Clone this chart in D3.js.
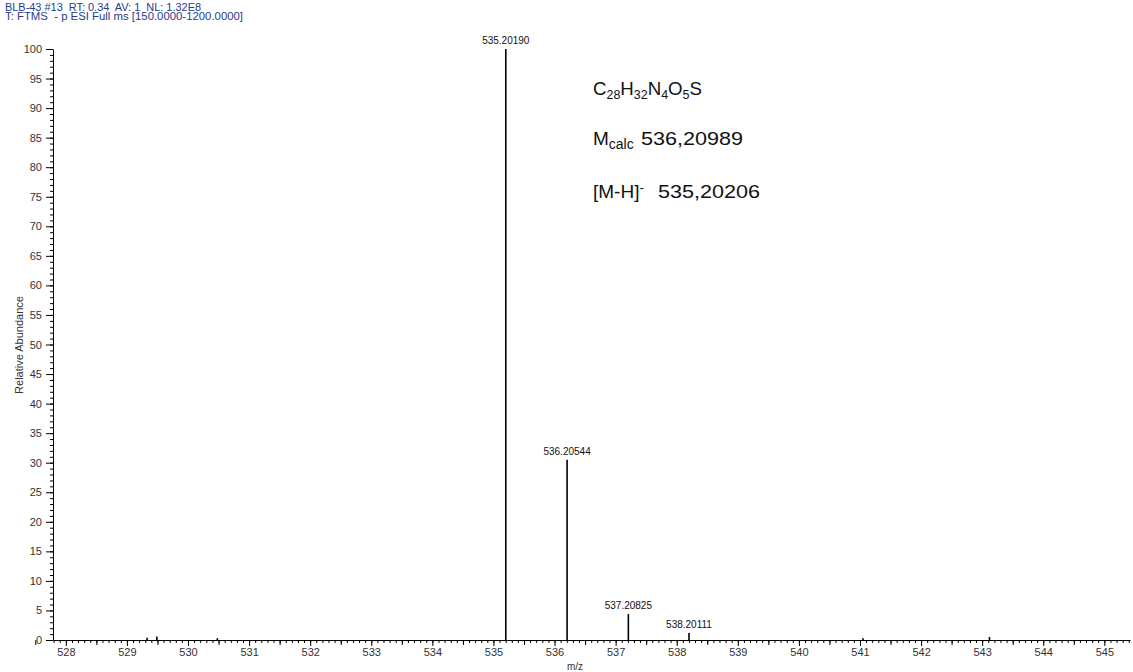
<!DOCTYPE html>
<html>
  <head>
      <meta charset="utf-8">
      <title>Mass spectrum</title>
      <script type="text/javascript" src="https://d3js.org/d3.v7.min.js"></script>
      <style>
        body { margin: 0; background: #fff; }
        text { font-family: "Liberation Sans", Arial, sans-serif; white-space: pre; }
      </style>
  </head>
  <body>

    <script type="text/javascript">
    var w = 1133;
    var h = 672;

    // peaks: m/z and relative abundance
    var peakMz    = [529.33, 529.49, 530.48, 535.20190, 536.20544, 537.20825, 538.20111, 541.05, 543.12];
    var peakAbund = [0.4,    0.6,    0.3,    100,       30.5,      4.4,       1.2,       0.3,    0.5];
    var peakLabel = ["", "", "", "535.20190", "536.20544", "537.20825", "538.20111", "", ""];

    var xTicks = d3.range(528, 546);
    var yTicks = d3.range(0, 101, 5);

    var header = ["BLB-43 #13  RT: 0.34  AV: 1  NL: 1.32E8",
                  "T: FTMS  - p ESI Full ms [150.0000-1200.0000]"];
    var headerWidth = [196, 238];

    var xScale = d3.scaleLinear()
                   .domain([527.79, 545.42])
                   .range([53, 1130]);
    var yScale = d3.scaleLinear()
                   .domain([0, 100])
                   .range([640, 49]);

    var svg = d3.select("body")
                .append("svg")
                .attr("width", w)
                .attr("height", h);

    // header text
    svg.selectAll("text.hdr")
       .data(header)
       .enter()
       .append("text")
       .attr("class", "hdr")
       .attr("x", 5)
       .attr("y", function(d, i){ return 11 + i * 9; })
       .attr("font-size", "10px")
       .attr("fill", "#2b3a8c")
       .attr("textLength", function(d, i){ return headerWidth[i]; })
       .attr("lengthAdjust", "spacingAndGlyphs")
       .text(function(d){ return d; });

    // y axis: major ticks labelled, minor every 1
    svg.append("g")
       .attr("transform", "translate(53,0)")
       .call(d3.axisLeft(yScale).tickValues(d3.range(0, 101, 1)).tickSize(3).tickFormat(""))
       .call(function(g){ g.select(".domain").remove(); });
    var yAx = svg.append("g")
       .attr("transform", "translate(53,0)")
       .call(d3.axisLeft(yScale).tickValues(yTicks).tickSize(7).tickSizeOuter(0).tickPadding(4));
    yAx.selectAll("text").attr("font-size", "11px").attr("fill", "#333")
       .style("font-family", "Liberation Sans, Arial, sans-serif");

    // x axis: minor every 0.1, mid at .5, major at integers
    var minor = d3.range(5278, 5455, 1).map(function(d){ return d / 10; });
    svg.append("g")
       .attr("transform", "translate(0,640)")
       .call(d3.axisBottom(xScale).tickValues(minor).tickSize(3).tickFormat(""))
       .call(function(g){ g.select(".domain").remove(); });
    var mid = d3.range(527.5, 545.6, 1);
    svg.append("g")
       .attr("transform", "translate(0,640)")
       .call(d3.axisBottom(xScale).tickValues(mid).tickSize(5).tickFormat(""))
       .call(function(g){ g.select(".domain").remove(); });
    var xAx = svg.append("g")
       .attr("transform", "translate(0,640)")
       .call(d3.axisBottom(xScale).tickValues(xTicks).tickSize(6).tickSizeOuter(0).tickPadding(2));
    xAx.selectAll("text").attr("font-size", "11px").attr("fill", "#333")
       .style("font-family", "Liberation Sans, Arial, sans-serif");

    // axis titles
    svg.append("text")
       .attr("transform", "translate(23,345) rotate(-90)")
       .attr("text-anchor", "middle")
       .attr("font-size", "11px")
       .attr("fill", "#333")
       .text("Relative Abundance");
    svg.append("text")
       .attr("x", 575)
       .attr("y", 670)
       .attr("text-anchor", "middle")
       .attr("font-size", "10px")
       .attr("fill", "#333")
       .text("m/z");

    // peaks
    svg.selectAll("line.peak")
       .data(peakMz)
       .enter()
       .append("line")
       .attr("class", "peak")
       .attr("x1", function(d){ return xScale(d); })
       .attr("x2", function(d){ return xScale(d); })
       .attr("y1", yScale(0))
       .attr("y2", function(d, i){ return yScale(peakAbund[i]); })
       .attr("stroke", "#000")
       .attr("stroke-width", 1.6);

    svg.selectAll("text.plab")
       .data(peakMz)
       .enter()
       .append("text")
       .attr("class", "plab")
       .attr("x", function(d){ return xScale(d); })
       .attr("y", function(d, i){ return yScale(peakAbund[i]) - 5; })
       .attr("text-anchor", "middle")
       .attr("font-size", "10px")
       .attr("fill", "#111")
       .text(function(d, i){ return peakLabel[i]; });

    // formula annotation
    var ann = svg.append("g").attr("font-size", "19px").attr("fill", "#111");
    var t1 = ann.append("text").attr("x", 593).attr("y", 95)
       .attr("textLength", 109).attr("lengthAdjust", "spacingAndGlyphs");
    [["C", 0], ["28", 1], ["H", 0], ["32", 1], ["N", 0], ["4", 1], ["O", 0], ["5", 1], ["S", 0]].forEach(function(p){
      t1.append("tspan").attr("font-size", p[1] ? "12px" : "18px")
        .attr("baseline-shift", p[1] ? "-4" : "0").text(p[0]);
    });
    var t2 = ann.append("text").attr("x", 593).attr("y", 145);
    t2.append("tspan").text("M");
    t2.append("tspan").attr("font-size", "14px").attr("baseline-shift", "-4").text("calc");
    ann.append("text").attr("x", 641).attr("y", 145)
       .attr("textLength", 102).attr("lengthAdjust", "spacingAndGlyphs")
       .text("536,20989");
    var t3 = ann.append("text").attr("x", 593).attr("y", 198);
    t3.append("tspan").text("[M-H]");
    t3.append("tspan").attr("font-size", "13px").attr("baseline-shift", "6").text("-");
    ann.append("text").attr("x", 658).attr("y", 198)
       .attr("textLength", 102).attr("lengthAdjust", "spacingAndGlyphs")
       .text("535,20206");
    </script>

  </body>
</html>
